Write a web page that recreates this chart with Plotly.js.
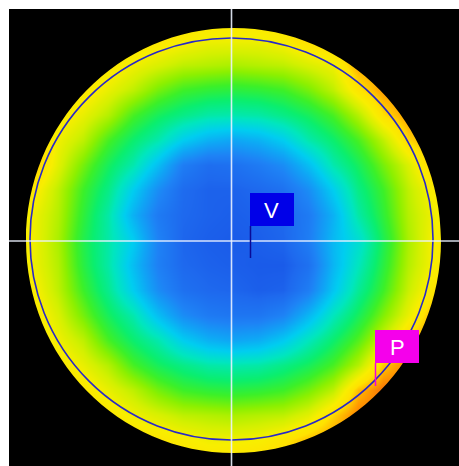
<!DOCTYPE html>
<html>
<head>
<meta charset="utf-8">
<script src="https://cdn.plot.ly/plotly-3.0.1.min.js"></script>
<style>
  html, body { margin: 0; padding: 0; background: #ffffff; }
  #chart { width: 459px; height: 466px; }
</style>
</head>
<body>
<div id="chart"></div>
<script>
// Sample positions (pixel grid of the map) and map values
const gridX = [8, 33, 58, 83, 108, 133, 158, 183, 208, 233, 258, 283, 308, 333, 358, 383, 408, 433, 458];
const gridY = [15, 40, 65, 90, 115, 140, 165, 190, 215, 240, 265, 290, 315, 340, 365, 390, 415, 440, 465];

const row00 = [9.1, 9.1, 9.1, 9.1, 9.1, 9.1, 9.1, 9.1, 9.1, 9.1, 9.1, 9.1, 9.3, 9.5, 9.6, 9.7, 9.7, 9.7, 9.7];
const row01 = [9.1, 9.1, 9.1, 9.1, 9.1, 9.1, 9.0, 8.8, 8.6, 8.6, 8.6, 8.8, 9.2, 9.4, 9.6, 9.7, 9.7, 9.7, 9.7];
const row02 = [9.1, 9.1, 9.1, 9.1, 9.0, 8.6, 8.3, 8.0, 7.9, 7.8, 7.9, 8.0, 8.3, 8.6, 9.6, 9.7, 9.7, 9.7, 9.7];
const row03 = [9.1, 9.1, 9.1, 9.0, 8.5, 8.0, 7.3, 6.8, 6.6, 6.5, 6.6, 6.8, 7.3, 8.0, 9.0, 9.7, 9.8, 9.7, 9.7];
const row04 = [9.3, 9.4, 9.0, 8.5, 7.9, 6.9, 6.2, 5.7, 5.3, 5.2, 5.3, 5.7, 6.2, 6.9, 7.9, 9.1, 9.7, 9.7, 9.6];
const row05 = [9.6, 9.6, 8.6, 8.0, 6.9, 6.0, 5.2, 4.0, 3.3, 3.0, 3.3, 4.0, 5.2, 6.0, 6.9, 8.0, 9.2, 9.6, 9.5];
const row06 = [9.6, 9.5, 8.4, 7.3, 6.2, 5.2, 3.6, 1.8, 1.2, 1.3, 1.7, 2.3, 3.6, 5.2, 6.2, 7.3, 8.3, 9.4, 9.3];
const row07 = [9.3, 8.9, 8.0, 6.8, 5.7, 4.0, 2.3, 1.1, 0.8, 0.8, 1.0, 1.3, 2.3, 4.0, 5.7, 6.8, 8.0, 8.8, 9.1];
const row08 = [9.1, 8.6, 7.9, 6.6, 5.3, 3.3, 1.7, 1.0, 0.8, 0.7, 0.8, 1.0, 1.7, 3.3, 5.3, 6.6, 7.9, 8.6, 9.1];
const row09 = [9.1, 8.6, 7.8, 6.4, 5.3, 4.0, 2.0, 0.9, 0.7, 0.6, 0.7, 0.9, 1.8, 3.5, 4.6, 6.3, 7.8, 8.7, 9.2];
const row10 = [9.1, 8.6, 7.9, 6.5, 5.3, 3.6, 1.9, 1.0, 0.8, 0.7, 0.6, 0.6, 1.3, 3.4, 5.0, 6.5, 7.9, 8.7, 9.3];
const row11 = [9.1, 8.8, 8.0, 6.8, 5.6, 4.0, 2.3, 1.3, 1.0, 0.9, 0.7, 0.8, 1.8, 3.8, 5.5, 6.8, 8.1, 9.0, 9.4];
const row12 = [9.1, 9.0, 8.3, 7.3, 6.2, 5.2, 3.6, 2.3, 1.7, 1.5, 1.5, 2.0, 3.4, 5.0, 6.2, 7.4, 8.5, 9.5, 9.7];
const row13 = [9.1, 9.1, 8.6, 8.0, 6.9, 6.0, 5.2, 4.0, 3.3, 3.0, 3.2, 3.9, 5.0, 6.0, 7.0, 8.2, 9.3, 9.8, 9.8];
const row14 = [9.1, 9.1, 9.0, 8.5, 7.9, 6.9, 6.2, 5.7, 5.3, 5.2, 5.3, 5.7, 6.2, 6.9, 7.9, 9.3, 9.9, 9.9, 9.9];
const row15 = [9.1, 9.1, 9.1, 9.0, 8.5, 8.0, 7.3, 6.8, 6.6, 6.5, 6.6, 6.8, 7.3, 8.0, 9.4, 10.0, 10.0, 10.0, 10.0];
const row16 = [9.1, 9.1, 9.1, 9.1, 9.0, 8.6, 8.3, 8.0, 7.9, 7.8, 7.9, 8.0, 8.4, 9.2, 9.9, 10.0, 10.0, 10.0, 10.0];
const row17 = [9.1, 9.1, 9.1, 9.1, 9.1, 9.1, 9.0, 8.8, 8.6, 8.6, 8.7, 9.0, 9.4, 9.7, 9.9, 9.9, 9.9, 9.9, 9.9];
const row18 = [9.1, 9.1, 9.1, 9.1, 9.1, 9.1, 9.1, 9.1, 9.1, 9.2, 9.3, 9.4, 9.5, 9.7, 9.8, 9.9, 9.9, 9.9, 9.9];

const flagLabels = ['V', 'P'];

const zGrid = [row00, row01, row02, row03, row04, row05, row06, row07, row08, row09,
               row10, row11, row12, row13, row14, row15, row16, row17, row18];

const colorscale = [
  [0.00, 'rgb(20,70,225)'],
  [0.10, 'rgb(30,105,238)'],
  [0.20, 'rgb(30,130,245)'],
  [0.30, 'rgb(15,165,245)'],
  [0.40, 'rgb(0,205,240)'],
  [0.50, 'rgb(0,230,190)'],
  [0.60, 'rgb(10,238,110)'],
  [0.68, 'rgb(60,240,40)'],
  [0.75, 'rgb(140,240,0)'],
  [0.82, 'rgb(210,240,0)'],
  [0.87, 'rgb(248,238,0)'],
  [0.91, 'rgb(255,226,0)'],
  [0.94, 'rgb(255,190,0)'],
  [0.97, 'rgb(255,150,0)'],
  [1.00, 'rgb(245,110,10)']
];

const trace = {
  type: 'heatmap',
  x: gridX,
  y: gridY,
  z: zGrid,
  zmin: 0,
  zmax: 10,
  zsmooth: 'best',
  colorscale: colorscale,
  showscale: false,
  hoverinfo: 'skip'
};

// disc outline mask (black outside the disc)
const maskPath =
  'M9,9 H459 V466 H9 Z ' +
  'M441,240.5 C441,357.9 348.1,453 233.5,453 ' +
  'C118.9,453 26,357.9 26,240.5 ' +
  'C26,123.1 118.9,28 233.5,28 ' +
  'C348.1,28 441,123.1 441,240.5 Z';

const layout = {
  width: 459,
  height: 466,
  margin: { l: 9, r: 0, t: 9, b: 0, pad: 0 },
  paper_bgcolor: '#ffffff',
  plot_bgcolor: '#000000',
  showlegend: false,
  xaxis: { range: [9, 459], visible: false, fixedrange: true },
  yaxis: { range: [466, 9], visible: false, fixedrange: true },
  shapes: [
    { type: 'path', xref: 'x', yref: 'y', path: maskPath, fillrule: 'evenodd',
      fillcolor: '#000000', line: { width: 0 }, layer: 'above' },
    { type: 'circle', xref: 'x', yref: 'y', x0: 30, x1: 433, y0: 38, y1: 440,
      line: { color: 'rgb(40,40,200)', width: 1.6 }, layer: 'above' },
    { type: 'line', xref: 'x', yref: 'y', x0: 231.5, x1: 231.5, y0: 9, y1: 466,
      line: { color: 'rgba(235,242,255,0.9)', width: 1.6 }, layer: 'above' },
    { type: 'line', xref: 'x', yref: 'y', x0: 9, x1: 459, y0: 241, y1: 241,
      line: { color: 'rgba(235,242,255,0.9)', width: 1.6 }, layer: 'above' },
    // V flag
    { type: 'line', xref: 'x', yref: 'y', x0: 250.5, x1: 250.5, y0: 226, y1: 258,
      line: { color: 'rgb(10,10,150)', width: 1.5 }, layer: 'above' },
    { type: 'rect', xref: 'x', yref: 'y', x0: 250, x1: 294, y0: 193, y1: 226,
      fillcolor: 'rgb(0,0,232)', line: { width: 0 }, layer: 'above' },
    // P flag
    { type: 'line', xref: 'x', yref: 'y', x0: 375.5, x1: 375.5, y0: 363, y1: 386,
      line: { color: 'rgb(240,0,220)', width: 1.5 }, layer: 'above' },
    { type: 'rect', xref: 'x', yref: 'y', x0: 375, x1: 419, y0: 330, y1: 363,
      fillcolor: 'rgb(245,0,235)', line: { width: 0 }, layer: 'above' }
  ],
  annotations: [
    { xref: 'x', yref: 'y', x: 271, y: 210, text: flagLabels[0], showarrow: false,
      font: { family: 'Liberation Sans', size: 22, color: '#ffffff' } },
    { xref: 'x', yref: 'y', x: 397, y: 347, text: flagLabels[1], showarrow: false,
      font: { family: 'Liberation Sans', size: 22, color: '#ffffff' } }
  ]
};

Plotly.newPlot('chart', [trace], layout, { staticPlot: true, displayModeBar: false });
</script>
</body>
</html>
